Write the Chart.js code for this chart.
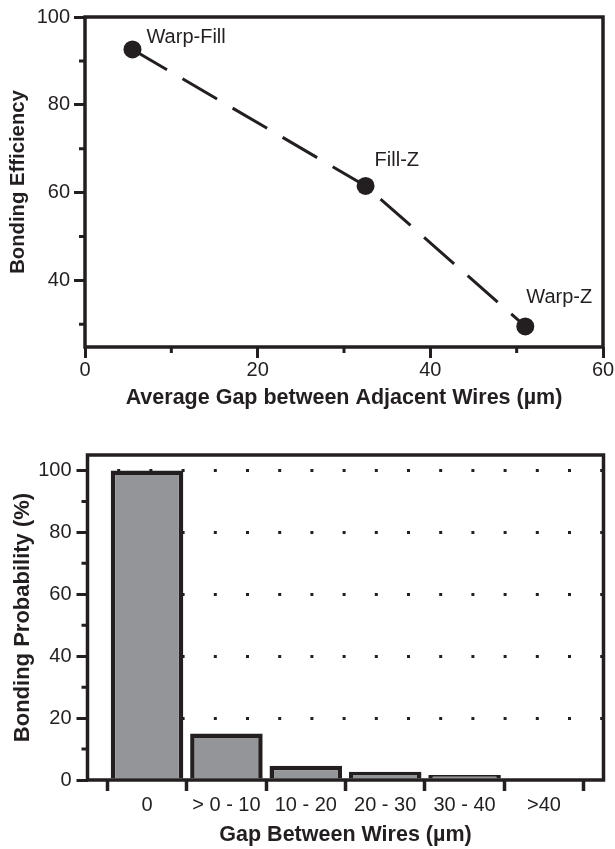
<!DOCTYPE html>
<html>
<head>
<meta charset="utf-8">
<script src="https://cdn.jsdelivr.net/npm/chart.js@4.4.1/dist/chart.umd.min.js"></script>
<style>
  body { margin: 0; background: #fff; }
  .panel { position: absolute; left: 0; width: 615px; }
  #top { top: 0; height: 420px; }
  #bot { top: 420px; height: 429px; }
</style>
</head>
<body>
<div class="panel" id="top"><canvas id="gapChart"></canvas></div>
<div class="panel" id="bot"><canvas id="probChart"></canvas></div>
<script>
// upper panel: bonding efficiency vs average gap
var pairNames = ['Warp-Fill', 'Fill-Z', 'Warp-Z'];
var avgGap = [5.5, 32.5, 51.0];
var efficiency = [92.6, 61.5, 29.5];
var gapTicks = [0, 10, 20, 30, 40, 50, 60];
var effTicks = [30, 40, 50, 60, 70, 80, 90, 100];

// lower panel: bonding probability per gap class
var gapClasses = ['0', '> 0 - 10', '10 - 20', '20 - 30', '30 - 40', '>40'];
var probability = [100, 15, 4.6, 2.7, 1.6, 0];
var probTicks = [0, 10, 20, 30, 40, 50, 60, 70, 80, 90, 100];

var ink = '#231f20';
var clear = 'rgba(0,0,0,0)';
var family = "'Liberation Sans', Arial, Helvetica, sans-serif";
var tickFont = { family: family, size: 20 };
var xTitleFont = { family: family, size: 21.5, weight: 'bold' };

// where the pair names sit next to their dots
var labelShift = [[14, -12], [9, -25], [1, -29]];

function majorTick(c) {
  return c.tick && c.tick.value % 20 === 0 ? ink : clear;
}

// box around the plot plus the short minor ticks
function framePlugin(minorX, minorY) {
  return {
    id: 'frame',
    afterDraw: function(chart) {
      var ctx = chart.ctx, a = chart.chartArea;
      ctx.save();
      ctx.strokeStyle = ink;
      ctx.lineWidth = 3.5;
      ctx.strokeRect(a.left, a.top, a.right - a.left, a.bottom - a.top);
      ctx.lineWidth = 3;
      ctx.beginPath();
      minorX.forEach(function(v) {
        var px = chart.scales.x.getPixelForValue(v);
        ctx.moveTo(px, a.bottom);
        ctx.lineTo(px, a.bottom + 6);
      });
      minorY.forEach(function(v) {
        var py = chart.scales.y.getPixelForValue(v);
        ctx.moveTo(a.left - 6, py);
        ctx.lineTo(a.left, py);
      });
      ctx.stroke();
      ctx.restore();
    }
  };
}

var pointLabels = {
  id: 'pointLabels',
  afterDatasetsDraw: function(chart) {
    var ctx = chart.ctx;
    var pts = chart.getDatasetMeta(0).data;
    ctx.save();
    ctx.fillStyle = ink;
    ctx.font = '20px ' + family;
    ctx.textAlign = 'left';
    ctx.textBaseline = 'middle';
    pts.forEach(function(p, i) {
      ctx.fillText(pairNames[i], p.x + labelShift[i][0], p.y + labelShift[i][1]);
    });
    ctx.restore();
  }
};

new Chart(document.getElementById('gapChart'), {
  type: 'line',
  data: {
    datasets: [{
      data: avgGap.map(function(g, i) { return { x: g, y: efficiency[i] }; }),
      borderColor: ink,
      borderWidth: 3,
      borderDash: [40, 18],
      pointRadius: 9,
      pointBackgroundColor: ink,
      pointBorderWidth: 0,
      tension: 0,
      fill: false
    }]
  },
  options: {
    responsive: true,
    maintainAspectRatio: false,
    animation: false,
    events: [],
    layout: { padding: { top: 17, right: 12, left: 0, bottom: 0 } },
    plugins: { legend: { display: false }, tooltip: { enabled: false } },
    scales: {
      x: {
        type: 'linear', min: 0, max: 60,
        afterBuildTicks: function(s) { s.ticks = gapTicks.map(function(v) { return { value: v }; }); },
        afterFit: function(s) { s.height = 73; },
        border: { display: false },
        grid: { drawOnChartArea: false, tickLength: 11, tickWidth: 3, tickColor: majorTick },
        ticks: {
          padding: 0, color: ink, font: tickFont, maxRotation: 0, autoSkip: false,
          callback: function(v) { return v % 20 === 0 ? v : ''; }
        },
        title: {
          display: true, text: 'Average Gap between Adjacent Wires (µm)',
          color: ink, font: xTitleFont, padding: { top: 0, bottom: 9 }
        }
      },
      y: {
        min: 24.8, max: 100,
        afterBuildTicks: function(s) { s.ticks = effTicks.map(function(v) { return { value: v }; }); },
        afterFit: function(s) { s.width = 85; },
        border: { display: false },
        grid: { drawOnChartArea: false, tickLength: 11, tickWidth: 3, tickColor: majorTick },
        ticks: {
          padding: 4, color: ink, font: tickFont,
          callback: function(v) { return v % 20 === 0 ? v : ''; }
        },
        title: {
          display: true, text: 'Bonding Efficiency',
          color: ink, font: { family: family, size: 20.3, weight: 'bold' }, padding: { top: 6, bottom: 0 }
        }
      }
    }
  },
  plugins: [framePlugin([10, 30, 50], [30, 50, 70, 90]), pointLabels]
});

new Chart(document.getElementById('probChart'), {
  type: 'bar',
  data: {
    datasets: [{
      data: probability.map(function(p, i) { return { x: i + 0.5, y: p }; }),
      backgroundColor: '#939598',
      borderColor: ink,
      borderWidth: 4.5,
      barPercentage: 0.914,
      categoryPercentage: 1
    }]
  },
  options: {
    responsive: true,
    maintainAspectRatio: false,
    animation: false,
    events: [],
    layout: { padding: { top: 35, right: 11.5, left: 0, bottom: 0 } },
    plugins: { legend: { display: false }, tooltip: { enabled: false } },
    scales: {
      x: {
        type: 'linear', min: -0.25, max: 6.25, weight: 0, offset: false,
        afterBuildTicks: function(s) {
          s.ticks = gapClasses.concat(['']).map(function(c, i) { return { value: i }; });
        },
        afterFit: function(s) { s.height = 11; },
        border: { display: false },
        grid: { offset: false, drawOnChartArea: false, tickLength: 11, tickWidth: 3.5, tickColor: ink },
        ticks: { display: false }
      },
      x2: {
        type: 'linear', position: 'bottom', min: -0.25, max: 6.25, weight: 1, offset: false,
        afterBuildTicks: function(s) {
          s.ticks = gapClasses.map(function(c, i) { return { value: i + 0.5 }; });
        },
        afterFit: function(s) { s.height = 58; },
        border: { display: false },
        grid: { display: false, drawTicks: false, offset: false },
        ticks: {
          padding: 2, color: ink, font: tickFont, maxRotation: 0, autoSkip: false,
          callback: function(v, i) { return gapClasses[i]; }
        },
        title: {
          display: true, text: 'Gap Between Wires (µm)',
          color: ink, font: xTitleFont, padding: { top: 0, bottom: 1 }
        }
      },
      y: {
        min: 0, max: 105,
        afterBuildTicks: function(s) { s.ticks = probTicks.map(function(v) { return { value: v }; }); },
        afterFit: function(s) { s.width = 87.5; },
        border: { display: false, dash: [3, 29.2], dashOffset: 3 },
        grid: {
          lineWidth: 3,
          color: function(c) { return c.tick && c.tick.value > 0 && c.tick.value % 20 === 0 ? ink : clear; },
          tickLength: 11, tickWidth: 3, tickColor: majorTick
        },
        ticks: {
          padding: 5, color: ink, font: tickFont,
          callback: function(v) { return v % 20 === 0 ? v : ''; }
        },
        title: {
          display: true, text: 'Bonding Probability (%)',
          color: ink, font: { family: family, size: 22, weight: 'bold' }, padding: { top: 10, bottom: 0 }
        }
      }
    }
  },
  plugins: [framePlugin([], [10, 30, 50, 70, 90])]
});
</script>
</body>
</html>
